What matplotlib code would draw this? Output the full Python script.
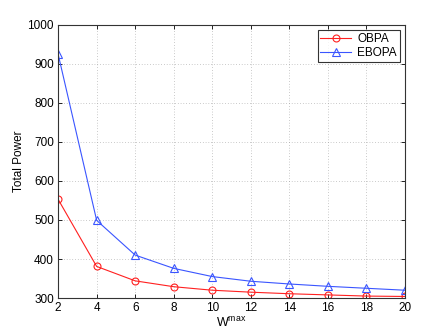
import matplotlib
matplotlib.use("Agg")
import matplotlib.pyplot as plt

plt.rcParams['font.family'] = ['Liberation Sans', 'DejaVu Sans']
plt.rcParams['mathtext.fontset'] = 'custom'
plt.rcParams['mathtext.rm'] = 'Liberation Sans'
plt.rcParams['mathtext.it'] = 'Liberation Sans'

w_max = [2, 4, 6, 8, 10, 12, 14, 16, 18, 20]
obpa = [553, 381, 344, 329, 320, 315, 311, 308, 305, 304]
ebopa = [925, 499, 410, 376, 355, 343, 336, 330, 325, 320]
xticks = [2, 4, 6, 8, 10, 12, 14, 16, 18, 20]
yticks = [300, 400, 500, 600, 700, 800, 900, 1000]

fig = plt.figure(figsize=(4.47, 3.36), dpi=100)
ax = fig.add_axes([0.130, 0.113, 0.776, 0.813])

ax.plot(w_max, obpa, color='#ff2020', marker='o', markerfacecolor='none',
        markersize=5, linewidth=0.8, markeredgewidth=0.8, label='OBPA')
ax.plot(w_max, ebopa, color='#3a55ff', marker='^', markerfacecolor='none',
        markersize=5.5, linewidth=0.8, markeredgewidth=0.8, label='EBOPA')

ax.set_xlim(2, 20)
ax.set_ylim(300, 1000)
ax.set_xticks(xticks)
ax.set_yticks(yticks)
ax.tick_params(direction='in', top=True, right=True, labelsize=8.5,
               length=3, width=0.6, pad=3)
ax.grid(True, linestyle=(0, (1, 3)), color='#999999', linewidth=0.5)
for s in ax.spines.values():
    s.set_linewidth(0.8)
    s.set_color('#333333')

ax.set_ylabel('Total Power', fontsize=8.5, labelpad=2)
ax.set_xlabel(r'W$^{\mathrm{max}}$', fontsize=9, labelpad=1)

leg = ax.legend(loc='upper right', fontsize=8.5, frameon=True, fancybox=False,
                edgecolor='black', borderpad=0.25, handlelength=2.6,
                labelspacing=0.15, borderaxespad=0.45, handletextpad=0.5)
leg.get_frame().set_linewidth(0.8)

fig.savefig('out.png', dpi=100)
